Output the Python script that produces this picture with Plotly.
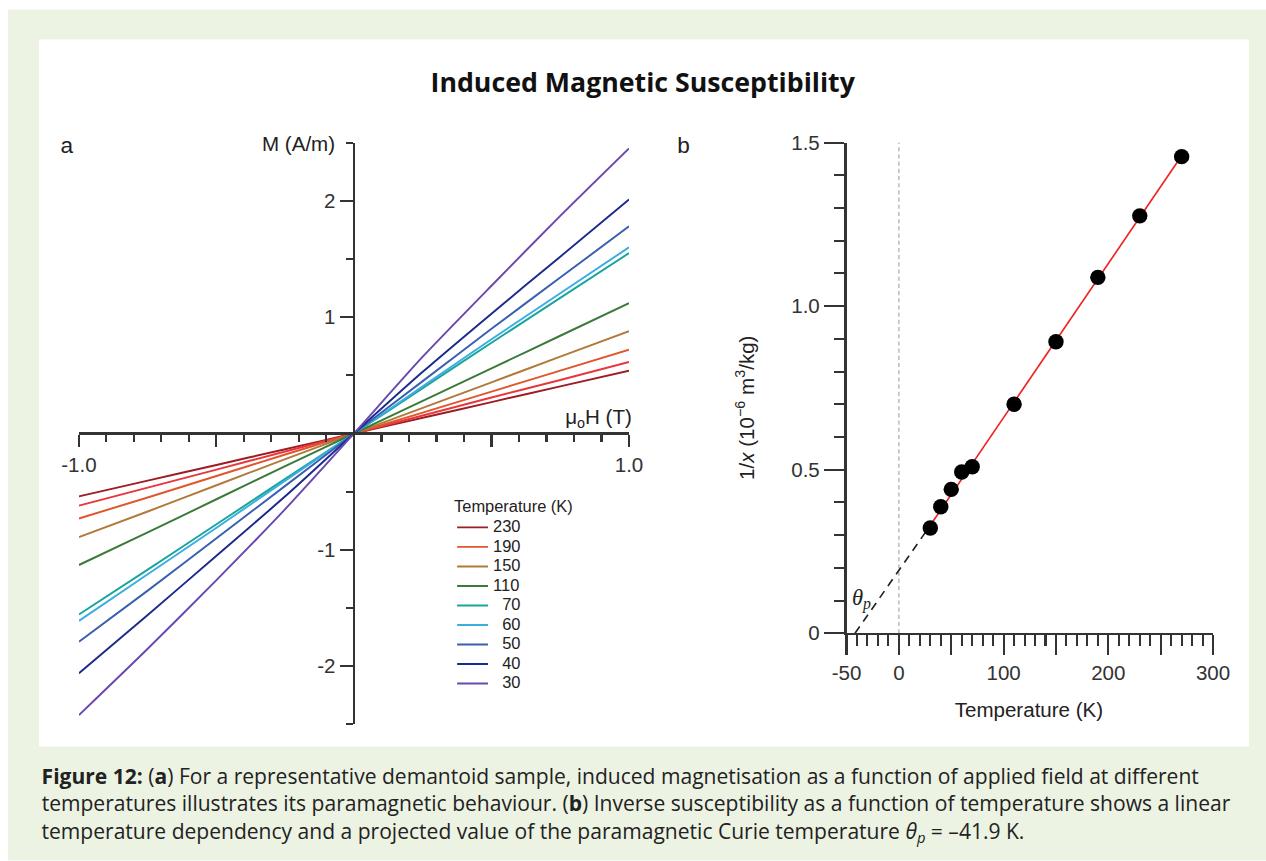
import plotly.graph_objects as go

W, H = 1266, 861

# ---------------- data: panel a (M vs mu0 H) ----------------
field_T = [-1.0, -0.75, -0.5, -0.25, 0.0, 0.25, 0.5, 0.75, 1.0]
series_names = ["230", "", "190", "150", "110", "\u200770", "\u200760", "\u200750", "\u200740", "\u200730"]
M_230 = [-0.54, -0.405, -0.27, -0.135, 0.0, 0.135, 0.27, 0.405, 0.54]
M_extra = [-0.62, -0.465, -0.31, -0.155, 0.0, 0.155, 0.31, 0.46, 0.615]
M_190 = [-0.73, -0.55, -0.365, -0.18, 0.0, 0.18, 0.36, 0.54, 0.72]
M_150 = [-0.89, -0.67, -0.445, -0.22, 0.0, 0.22, 0.44, 0.66, 0.88]
M_110 = [-1.13, -0.85, -0.565, -0.28, 0.0, 0.28, 0.56, 0.84, 1.12]
M_70 = [-1.555, -1.17, -0.78, -0.39, 0.0, 0.39, 0.78, 1.165, 1.55]
M_60 = [-1.61, -1.21, -0.81, -0.405, 0.0, 0.405, 0.81, 1.205, 1.60]
M_50 = [-1.79, -1.35, -0.90, -0.45, 0.0, 0.45, 0.90, 1.34, 1.78]
M_40 = [-2.06, -1.56, -1.05, -0.54, 0.0, 0.53, 1.03, 1.52, 2.01]
M_30 = [-2.42, -1.85, -1.26, -0.65, 0.0, 0.66, 1.27, 1.87, 2.45]
series_values = [M_230, M_extra, M_190, M_150, M_110, M_70, M_60, M_50, M_40, M_30]
series_colors = ["#9e1c24", "#e8363c", "#e0562e", "#b07a3a", "#3a7a3a",
                 "#1aa59a", "#3aaee0", "#3a5fb0", "#1c2a8c", "#6a48b0"]

# ---------------- data: panel b (1/chi vs T) ----------------
temp_b = [30, 40, 50, 60, 70, 110, 150, 190, 230, 270]
inv_chi = [0.322, 0.387, 0.440, 0.493, 0.509, 0.700, 0.891, 1.088, 1.276, 1.457]
fit_T = [30, 270]
fit_v = [0.33, 1.46]
extrap_T = [-41.9, 30]
extrap_v = [0.0, 0.33]

# ---------------- helpers ----------------
def fx(px):
    return px / W

def fy(py):
    return 1 - py / H

AX = "#333333"
SANS = "Liberation Sans, Arial, sans-serif"
TICKFONT = dict(family=SANS, size=20, color="#333333")

fig = go.Figure()

for name, vals, col in zip(series_names, series_values, series_colors):
    fig.add_trace(go.Scatter(
        x=field_T, y=vals, mode="lines",
        name='<span style="font-size:16px">' + name + "</span>" if name else "",
        line=dict(color=col, width=1.9, shape="spline", smoothing=0.6),
        showlegend=(name != ""), xaxis="x", yaxis="y"))

fig.add_trace(go.Scatter(x=extrap_T, y=extrap_v, mode="lines", showlegend=False,
                         line=dict(color="#222222", width=1.6, dash="8px,6px"),
                         xaxis="x2", yaxis="y2"))
fig.add_trace(go.Scatter(x=fit_T, y=fit_v, mode="lines", showlegend=False,
                         line=dict(color="#ee2222", width=1.6),
                         xaxis="x2", yaxis="y2"))
fig.add_trace(go.Scatter(x=temp_b, y=inv_chi, mode="markers", showlegend=False,
                         marker=dict(color="#000000", size=15),
                         xaxis="x2", yaxis="y2"))

# background shapes
shapes = [
    dict(type="rect", xref="paper", yref="paper", x0=fx(8), x1=fx(1266), y0=fy(860), y1=fy(10),
         fillcolor="#edf3e3", line=dict(width=0), layer="below"),
    dict(type="rect", xref="paper", yref="paper", x0=fx(39), x1=fx(1249), y0=fy(746), y1=fy(40),
         fillcolor="#ffffff", line=dict(width=0), layer="below"),
    dict(type="line", xref="x2", yref="y2", x0=0, x1=0, y0=0, y1=1.5,
         line=dict(color="#9a9a9a", width=1, dash="4px,3px"), layer="below"),
]

ax_a_x0, ax_a_x1 = 79, 629
ax_a_y0, ax_a_y1 = 143, 724
ax_b_x0, ax_b_x1 = 846.5, 1213
ax_b_y0, ax_b_y1 = 143, 633

fig.update_layout(
    width=W, height=H, autosize=False,
    margin=dict(l=0, r=0, t=0, b=0),
    paper_bgcolor="#ffffff", plot_bgcolor="rgba(0,0,0,0)",
    showlegend=True,
    shapes=shapes,
    xaxis=dict(domain=[fx(ax_a_x0), fx(ax_a_x1)], range=[-1, 1], anchor="free",
               position=fy((ax_a_y0 + ax_a_y1) / 2),
               showgrid=False, zeroline=False, showline=True, linecolor=AX, linewidth=2,
               ticks="outside", ticklen=12, tickwidth=2, tickcolor=AX,
               tickmode="array", tickvals=[-1, -0.5, 0.5, 1], ticktext=["-1.0", "", "", "1.0"],
               minor=dict(ticks="outside", ticklen=7, tickwidth=2, tickcolor=AX, dtick=0.1, tick0=0),
               tickfont=TICKFONT),
    yaxis=dict(domain=[fy(ax_a_y1), fy(ax_a_y0)], range=[-2.5, 2.5], anchor="free",
               position=fx((ax_a_x0 + ax_a_x1) / 2),
               showgrid=False, zeroline=False, showline=True, linecolor=AX, linewidth=2,
               ticks="outside", ticklen=13, tickwidth=2, tickcolor=AX,
               tickmode="array", tickvals=[-2, -1, 1, 2], ticktext=["-2", "-1", "1", "2"],
               minor=dict(ticks="outside", ticklen=7, tickwidth=2, tickcolor=AX,
                          tickmode="array", tickvals=[-2.5, -1.5, -0.5, 0.5, 1.5, 2.5]),
               tickfont=TICKFONT),
    xaxis2=dict(domain=[fx(ax_b_x0), fx(ax_b_x1)], range=[-50, 300], anchor="y2",
                showgrid=False, zeroline=False, showline=True, linecolor=AX, linewidth=2,
                ticks="outside", ticklen=19, tickwidth=2, tickcolor=AX,
                tickmode="array", tickvals=[-50, 0, 50, 100, 150, 200, 250, 300],
                ticktext=["-50", "0", "", "100", "", "200", "", "300"],
                minor=dict(ticks="outside", ticklen=10, tickwidth=2, tickcolor=AX, dtick=10, tick0=0),
                tickfont=TICKFONT),
    yaxis2=dict(domain=[fy(ax_b_y1), fy(ax_b_y0)], range=[0, 1.5], anchor="x2",
                showgrid=False, zeroline=False, showline=True, linecolor=AX, linewidth=2,
                ticks="outside", ticklen=20, tickwidth=2, tickcolor=AX,
                tickmode="array", tickvals=[0, 0.5, 1.0, 1.5], ticktext=["0", "0.5", "1.0", "1.5"],
                minor=dict(ticks="outside", ticklen=10, tickwidth=2, tickcolor=AX, dtick=0.1, tick0=0),
                tickfont=TICKFONT),
    legend=dict(x=fx(452), y=fy(491), xanchor="left", yanchor="top",
                bgcolor="rgba(0,0,0,0)",
                title=dict(text="Temperature (K)", font=dict(family=SANS, size=16, color="#222")),
                font=dict(family=SANS, size=12, color="#222"),
                tracegroupgap=0, itemwidth=30),
)

def ann(text, px, py, size=20, xanchor="center", yanchor="middle", angle=0,
        family=SANS, color="#222222"):
    fig.add_annotation(text=text, x=fx(px), y=fy(py), xref="paper", yref="paper",
                       showarrow=False, xanchor=xanchor, yanchor=yanchor, textangle=angle,
                       font=dict(family=family, size=size, color=color))

ann("<b>Induced Magnetic Susceptibility</b>", 643, 82, size=26, family="Open Sans, sans-serif", color="#111")
ann("a", 67, 145, size=22)
ann("b", 683, 145, size=22)
ann("M (A/m)", 337, 145, size=20, xanchor="right")
ann("\u03bc<sub>o</sub>H (T)", 599, 418, size=20)
ann("1/<i>x</i> (10<sup>\u22126</sup> m<sup>3</sup>/kg)", 745, 408, size=20, angle=-90)
ann("Temperature (K)", 1029, 709, size=20)
ann("<i>\u03b8<sub>p</sub></i>", 862, 598, size=22, family="Liberation Serif, serif")

CAP = dict(size=20.5, family="Open Sans, sans-serif", color="#222", xanchor="left")
ann("<b>Figure 12:</b> (<b>a</b>) For a representative demantoid sample, induced magnetisation as a function of applied field at different",
    39, 775, **CAP)
ann("temperatures illustrates its paramagnetic behaviour. (<b>b</b>) Inverse susceptibility as a function of temperature shows a linear",
    39, 803, **CAP)
ann("temperature dependency and a projected value of the paramagnetic Curie temperature <i>\u03b8<sub>p</sub></i> = \u201341.9 K.",
    39, 831, **CAP)

POST = (
    "document.documentElement.style.overflow='hidden';"
    "document.body.style.margin='0';document.body.style.padding='0';"
    "document.body.style.overflow='hidden';"
    "var d=document.getElementById('{plot_id}');"
    "d.style.transformOrigin='633px 430.5px';d.style.transform='scale(1.0277)';"
)

fig.write_html("out.html", config={"displayModeBar": False}, post_script=POST)
